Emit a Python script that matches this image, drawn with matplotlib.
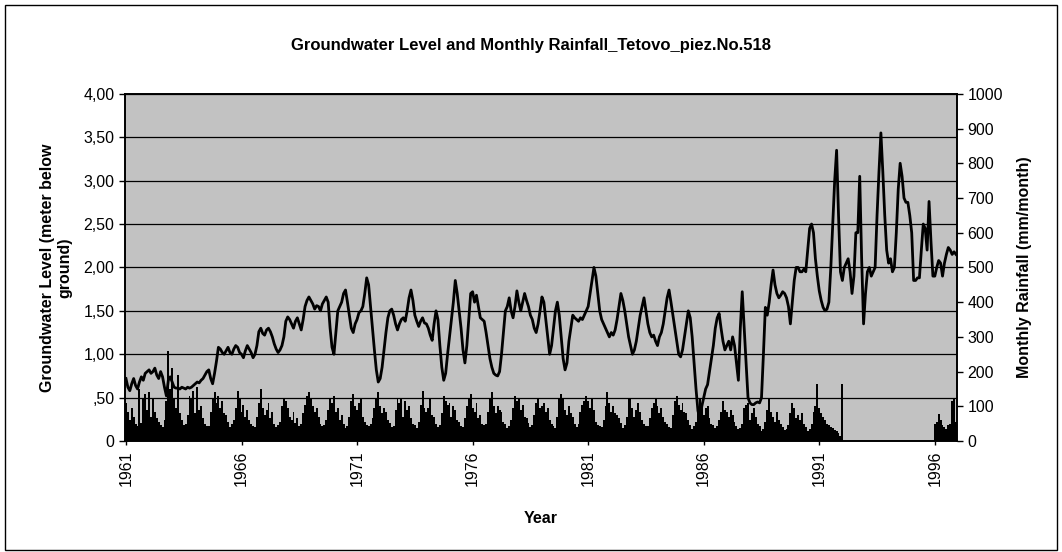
#!/usr/bin/env python3
# -*- coding: utf-8 -*-

"""
Groundwater level and monthly rainfall, Tetovo piezometer No. 518,
monthly values from January 1961 to December 1996.
"""

import matplotlib
matplotlib.use('Agg')
import matplotlib.pyplot as plt
import numpy as np
from matplotlib.patches import Rectangle

# Groundwater level (meter below ground), one row per year, Jan..Dec.
gw_level = [
    0.72, 0.62, 0.58, 0.66, 0.72, 0.64, 0.60, 0.68, 0.74, 0.70, 0.78, 0.80,  # 1961
    0.82, 0.78, 0.80, 0.84, 0.76, 0.72, 0.80, 0.74, 0.62, 0.52, 0.70, 0.74,  # 1962
    0.68, 0.62, 0.61, 0.61, 0.60, 0.62, 0.61, 0.60, 0.62, 0.61, 0.62, 0.64,  # 1963
    0.66, 0.68, 0.67, 0.70, 0.72, 0.76, 0.80, 0.82, 0.72, 0.66, 0.78, 0.92,  # 1964
    1.08, 1.06, 1.02, 1.00, 1.04, 1.08, 1.02, 1.00, 1.06, 1.10, 1.08, 1.02,  # 1965
    1.00, 0.96, 1.04, 1.10, 1.06, 1.02, 0.96, 1.00, 1.10, 1.26, 1.30, 1.24,  # 1966
    1.22, 1.28, 1.30, 1.26, 1.20, 1.12, 1.06, 1.02, 1.05, 1.10, 1.20, 1.38,  # 1967
    1.43, 1.40, 1.35, 1.30, 1.38, 1.42, 1.35, 1.28, 1.40, 1.55, 1.62, 1.66,  # 1968
    1.62, 1.58, 1.52, 1.56, 1.55, 1.50, 1.58, 1.62, 1.66, 1.60, 1.30, 1.08,  # 1969
    1.00, 1.25, 1.50, 1.55, 1.60, 1.70, 1.74, 1.60, 1.45, 1.30, 1.25, 1.35,  # 1970
    1.40, 1.48, 1.50, 1.55, 1.70, 1.88, 1.80, 1.55, 1.30, 1.05, 0.82, 0.68,  # 1971
    0.72, 0.85, 1.05, 1.25, 1.42, 1.50, 1.52, 1.45, 1.35, 1.28, 1.35, 1.40,  # 1972
    1.42, 1.38, 1.50, 1.65, 1.74, 1.62, 1.45, 1.38, 1.32, 1.38, 1.42, 1.36,  # 1973
    1.35, 1.30, 1.22, 1.16, 1.35, 1.50, 1.40, 1.10, 0.85, 0.70, 0.78, 1.00,  # 1974
    1.20, 1.40, 1.60, 1.85, 1.70, 1.50, 1.30, 1.05, 0.90, 1.10, 1.40, 1.70,  # 1975
    1.72, 1.60, 1.68, 1.55, 1.42, 1.40, 1.38, 1.25, 1.10, 0.95, 0.85, 0.78,  # 1976
    0.76, 0.75, 0.80, 1.00, 1.25, 1.50, 1.55, 1.65, 1.50, 1.42, 1.55, 1.73,  # 1977
    1.60, 1.50, 1.60, 1.70, 1.62, 1.55, 1.45, 1.40, 1.30, 1.25, 1.35, 1.50,  # 1978
    1.66, 1.60, 1.40, 1.20, 1.00, 1.10, 1.30, 1.50, 1.60, 1.45, 1.20, 0.95,  # 1979
    0.82, 0.90, 1.15, 1.30, 1.45, 1.42, 1.40, 1.38, 1.42, 1.40, 1.45, 1.50,  # 1980
    1.55, 1.70, 1.85, 2.00, 1.90, 1.70, 1.50, 1.40, 1.35, 1.30, 1.25, 1.20,  # 1981
    1.25, 1.22, 1.28, 1.40, 1.55, 1.70, 1.62, 1.50, 1.35, 1.20, 1.10, 1.00,  # 1982
    1.05, 1.15, 1.30, 1.45, 1.55, 1.65, 1.50, 1.35, 1.25, 1.20, 1.22, 1.15,  # 1983
    1.10, 1.20, 1.25, 1.35, 1.50, 1.65, 1.74, 1.60, 1.45, 1.30, 1.15, 1.00,  # 1984
    0.97, 1.05, 1.20, 1.35, 1.50, 1.42, 1.20, 0.90, 0.60, 0.35, 0.25, 0.40,  # 1985
    0.50, 0.60, 0.65, 0.80, 0.95, 1.10, 1.30, 1.42, 1.47, 1.30, 1.15, 1.05,  # 1986
    1.10, 1.15, 1.05, 1.20, 1.10, 0.90, 0.70, 1.30, 1.72, 1.30, 0.90, 0.50,  # 1987
    0.44, 0.42, 0.42, 0.44, 0.45, 0.44, 0.50, 1.00, 1.54, 1.45, 1.60, 1.80,  # 1988
    1.97, 1.80, 1.70, 1.65, 1.68, 1.72, 1.70, 1.65, 1.55, 1.35, 1.60, 1.85,  # 1989
    2.00, 2.00, 1.95, 1.95, 1.98, 1.95, 2.20, 2.45, 2.50, 2.40, 2.10, 1.90,  # 1990
    1.73, 1.62, 1.54, 1.50, 1.52, 1.60, 2.00, 2.50, 3.00, 3.35, 2.60, 1.95,  # 1991
    1.85, 2.00, 2.05, 2.10, 1.95, 1.70, 1.90, 2.40, 2.40, 3.05, 2.10, 1.35,  # 1992
    1.70, 1.95, 2.00, 1.90, 1.95, 2.00, 2.60, 3.10, 3.55, 3.10, 2.60, 2.20,  # 1993
    2.05, 2.10, 1.95, 2.00, 2.40, 2.90, 3.20, 3.05, 2.80, 2.75, 2.75, 2.60,  # 1994
    2.40, 1.85, 1.85, 1.88, 1.88, 2.20, 2.50, 2.45, 2.20, 2.76, 2.30, 1.90,  # 1995
    1.90, 2.00, 2.08, 2.05, 1.90, 2.05, 2.15, 2.23, 2.20, 2.15, 2.18, 2.15,  # 1996
]

# Monthly rainfall (mm/month), one row per year, Jan..Dec.
rainfall = [
    110, 85, 60, 95, 70, 48, 42, 150, 52, 120, 135, 90,    # 1961
    140, 70, 120, 85, 65, 55, 45, 40, 60, 115, 260, 150,   # 1962
    210, 120, 95, 190, 80, 60, 45, 48, 75, 130, 125, 145,  # 1963
    80, 155, 90, 100, 65, 50, 44, 42, 85, 120, 140, 110,   # 1964
    130, 95, 115, 80, 75, 55, 40, 50, 60, 95, 145, 120,    # 1965
    85, 105, 70, 90, 60, 48, 44, 40, 70, 110, 150, 95,     # 1966
    75, 90, 110, 65, 85, 50, 40, 45, 55, 100, 125, 115,    # 1967
    95, 70, 60, 85, 52, 65, 42, 48, 80, 105, 130, 140,     # 1968
    120, 100, 85, 95, 70, 50, 44, 46, 60, 90, 120, 110,    # 1969
    130, 85, 95, 60, 75, 48, 38, 42, 70, 115, 135, 100,    # 1970
    90, 110, 125, 70, 55, 46, 42, 50, 65, 95, 120, 140,    # 1971
    100, 80, 95, 85, 60, 52, 40, 44, 90, 120, 110, 125,    # 1972
    70, 115, 90, 100, 65, 48, 45, 38, 55, 105, 145, 95,    # 1973
    85, 95, 120, 75, 70, 50, 40, 46, 80, 130, 115, 105,    # 1974
    110, 70, 100, 90, 60, 55, 44, 40, 65, 100, 125, 135,   # 1975
    95, 85, 110, 65, 75, 48, 45, 48, 85, 120, 140, 100,    # 1976
    80, 100, 90, 85, 55, 50, 38, 44, 60, 95, 130, 115,     # 1977
    125, 90, 105, 70, 65, 52, 40, 46, 75, 110, 120, 95,    # 1978
    100, 110, 85, 95, 60, 48, 44, 38, 70, 125, 135, 120,   # 1979
    90, 75, 100, 80, 70, 50, 40, 48, 85, 105, 115, 130,    # 1980
    115, 95, 120, 90, 55, 46, 42, 40, 60, 100, 140, 110,   # 1981
    85, 100, 80, 75, 65, 52, 38, 45, 70, 120, 125, 95,     # 1982
    70, 90, 110, 85, 60, 48, 42, 42, 65, 95, 110, 120,     # 1983
    100, 80, 95, 70, 55, 50, 40, 38, 75, 115, 130, 105,    # 1984
    90, 110, 85, 80, 60, 45, 36, 42, 55, 90, 120, 100,     # 1985
    75, 95, 100, 65, 50, 46, 38, 44, 60, 85, 115, 90,      # 1986
    85, 70, 90, 75, 55, 42, 35, 38, 50, 95, 105, 110,      # 1987
    60, 80, 95, 70, 48, 42, 30, 35, 55, 90, 120, 85,       # 1988
    70, 55, 85, 60, 50, 40, 32, 36, 45, 80, 110, 95,       # 1989
    65, 75, 60, 80, 48, 40, 30, 34, 50, 85, 100, 165,      # 1990
    95, 80, 70, 60, 50, 45, 40, 38, 32, 28, 22, 15,        # 1991
    165, 0, 0, 0, 0, 0, 0, 0, 0, 0, 0, 0,                  # 1992
    0, 0, 0, 0, 0, 0, 0, 0, 0, 0, 0, 0,                    # 1993
    0, 0, 0, 0, 0, 0, 0, 0, 0, 0, 0, 0,                    # 1994
    0, 0, 0, 0, 0, 0, 0, 0, 0, 0, 0, 0,                    # 1995
    50, 55, 78, 60, 45, 40, 35, 45, 50, 115, 120, 55,      # 1996
]

# Year labels shown every five years on the category axis.
year_labels = ['1961', '1966', '1971', '1976', '1981', '1986', '1991', '1996']

# Left axis tick labels as printed (comma decimal separator).
level_ticks = [0, 0.5, 1.0, 1.5, 2.0, 2.5, 3.0, 3.5, 4.0]
level_tick_labels = ['0', ',50', '1,00', '1,50', '2,00', '2,50', '3,00', '3,50', '4,00']

rain_ticks = [0, 100, 200, 300, 400, 500, 600, 700, 800, 900, 1000]

plt.rcParams['font.family'] = ['Liberation Sans', 'DejaVu Sans']

# Month index used as category position.
months = np.arange(len(gw_level))

# Create the figure and the plot area.
fig = plt.figure(figsize = (10.62, 5.52), dpi = 100)
ax = fig.add_axes([0.1177, 0.201, 0.7834, 0.629])

# Outer chart border.
fig.patches.append(Rectangle(
    (0.005, 0.004), 0.99, 0.987,
        transform = fig.transFigure,
        fill = False,
        edgecolor = 'black',
        linewidth = 1.0
))

# Title.
fig.text(0.5, 0.918, 'Groundwater Level and Monthly Rainfall_Tetovo_piez.No.518',
    ha = 'center', va = 'center', fontsize = 12, fontweight = 'bold')

# Rainfall bars on the secondary axis.
ax2 = ax.twinx()
ax2.bar(months, rainfall, width = 1.0, color = 'black', linewidth = 0)
ax2.set_ylim(0, 1000)
ax2.set_yticks(rain_ticks)
ax2.set_ylabel('Monthly Rainfall (mm/month)', fontsize = 11.5,
    fontweight = 'bold', labelpad = 10)
ax2.tick_params(axis = 'y', labelsize = 11.5, length = 4, width = 1)

# Groundwater level line on the primary axis, drawn above the bars.
ax.set_zorder(ax2.get_zorder() + 1)
ax.patch.set_visible(False)
ax2.patch.set_visible(True)
ax2.set_facecolor('#c2c2c2')
ax.plot(months, gw_level, color = 'black', linewidth = 2.0)

ax.set_ylim(0, 4)
ax.set_yticks(level_ticks)
ax.set_yticklabels(level_tick_labels)
ax.yaxis.grid(True, color = 'black', linewidth = 0.9)
ax.set_axisbelow(False)
ax.tick_params(axis = 'y', labelsize = 11.5, length = 4, width = 1)
ax.set_ylabel('Groundwater Level (meter below\nground)', fontsize = 11.5,
    fontweight = 'bold', labelpad = 8, linespacing = 1.2)

# Category axis with a label every 60 months.
ax.set_xlim(-0.5, len(gw_level) - 0.5)
ax.set_xticks(np.arange(0, len(gw_level), 60))
ax.set_xticklabels(year_labels, rotation = 90)
ax.tick_params(axis = 'x', labelsize = 11.5, length = 3, width = 1)
ax.set_xlabel('Year', fontsize = 11.5, fontweight = 'bold', labelpad = 18)

for a in (ax, ax2):
    for s in a.spines.values():
        s.set_linewidth(1.2)
        s.set_color('black')

fig.savefig('out.png', dpi = 100)
